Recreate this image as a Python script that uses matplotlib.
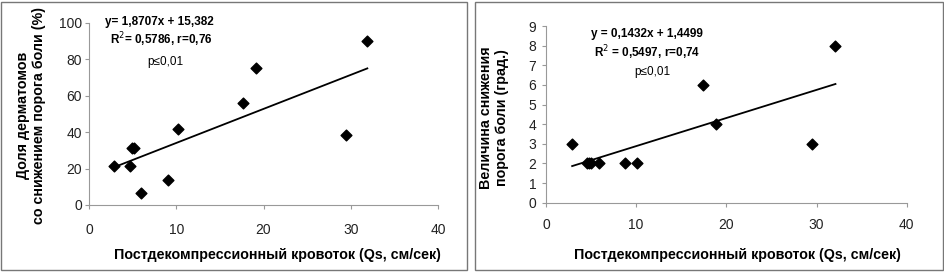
import matplotlib
matplotlib.use('Agg')
from matplotlib import pyplot as plt
from matplotlib.patches import Rectangle
import numpy as np

plt.rcParams['font.family'] = ['Liberation Sans', 'DejaVu Sans']

# left panel: share of dermatomes with lowered pain threshold
qs_left = [2.9, 4.7, 4.9, 5.2, 6.0, 9.0, 10.2, 17.6, 19.1, 29.5, 31.9]
share = [21.7, 21.3, 31.4, 31.4, 6.4, 13.6, 41.5, 55.8, 75.2, 38.5, 90.1]
k_left, b_left = 1.8707, 15.382

# right panel: amount of threshold decrease
qs_right = [2.9, 4.5, 4.8, 5.0, 5.9, 8.8, 10.1, 17.4, 18.9, 29.5, 32.1]
degr = [3, 2, 2, 2, 2, 2, 2, 6, 4, 3, 8]
k_right, b_right = 0.1432, 1.4499

xlabel = 'Постдекомпрессионный кровоток (Qs, см/сек)'
W, H = 945, 274
fig = plt.figure(figsize=(9.45, 2.74), dpi=100)

def px(x0, y0, x1, y1):
    return [x0 / W, 1 - y1 / H, (x1 - x0) / W, (y1 - y0) / H]

# gray frames around each panel
for (x0, y0, x1, y1) in [(1, 2, 467, 270), (475, 2, 943, 270)]:
    fig.patches.append(Rectangle((x0 / W, 1 - y1 / H), (x1 - x0) / W, (y1 - y0) / H,
                                 transform=fig.transFigure, fill=False,
                                 edgecolor='#777777', lw=1.0))

def style(ax, ypad, xpad):
    for s in ['top', 'right']:
        ax.spines[s].set_visible(False)
    for s in ['left', 'bottom']:
        ax.spines[s].set_color('#999999')
        ax.spines[s].set_linewidth(0.8)
    ax.tick_params(axis='both', direction='out', length=3, width=0.8,
                   color='#999999', labelsize=10, labelcolor='#222222')
    ax.tick_params(axis='y', pad=ypad)
    ax.tick_params(axis='x', pad=xpad)

ax1 = fig.add_axes(px(89, 23, 438, 205))
ax1.scatter(qs_left, share, marker='D', s=30, color='black', zorder=3)
xx = np.array([min(qs_left), max(qs_left)])
ax1.plot(xx, k_left * xx + b_left, color='black', lw=1.3)
ax1.set_xlim(0, 40)
ax1.set_ylim(0, 100)
ax1.set_xticks([0, 10, 20, 30, 40])
ax1.set_yticks([0, 20, 40, 60, 80, 100])
style(ax1, 2, 10)
fig.text(31 / W, 1 - 115 / H, 'Доля дерматомов\nсо снижением порога боли (%)',
         rotation=90, ha='center', va='center', fontsize=10.3, fontweight='bold',
         linespacing=1.2)
fig.text(277 / W, 1 - 255 / H, xlabel, ha='center', va='center',
         fontsize=10.3, fontweight='bold')
fig.text(105 / W, 1 - 22 / H, 'y= 1,8707x + 15,382', ha='left', va='center',
         fontsize=8.5, fontweight='bold')
fig.text(110 / W, 1 - 40 / H, 'R$^2$= 0,5786, r=0,76', ha='left', va='center',
         fontsize=8.5, fontweight='bold')
fig.text(147 / W, 1 - 62 / H, 'p≤0,01', ha='left', va='center', fontsize=8.5)

ax2 = fig.add_axes(px(546, 26, 906.7, 202.7))
ax2.scatter(qs_right, degr, marker='D', s=30, color='black', zorder=3)
xx = np.array([min(qs_right), max(qs_right)])
ax2.plot(xx, k_right * xx + b_right, color='black', lw=1.3)
ax2.set_xlim(0, 40)
ax2.set_ylim(0, 9)
ax2.set_xticks([0, 10, 20, 30, 40])
ax2.set_yticks(range(10))
style(ax2, 4, 8)
fig.text(494 / W, 1 - 118 / H, 'Величина снижения\nпорога боли (град.)',
         rotation=90, ha='center', va='center', fontsize=10.3, fontweight='bold',
         linespacing=1.2)
fig.text(737 / W, 1 - 255 / H, xlabel, ha='center', va='center',
         fontsize=10.3, fontweight='bold')
fig.text(647 / W, 1 - 34 / H, 'y = 0,1432x + 1,4499', ha='center', va='center',
         fontsize=8.5, fontweight='bold')
fig.text(647 / W, 1 - 53 / H, 'R$^2$ = 0,5497, r=0,74', ha='center', va='center',
         fontsize=8.5, fontweight='bold')
fig.text(652 / W, 1 - 72 / H, 'p≤0,01', ha='center', va='center', fontsize=8.5)

fig.savefig('out.png', dpi=100)
